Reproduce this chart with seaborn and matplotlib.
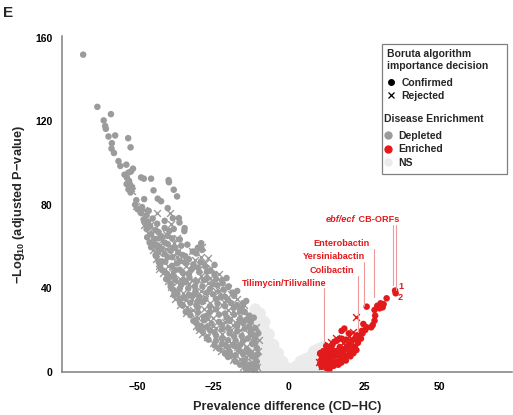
import pandas as pd
import matplotlib.pyplot as plt
import seaborn as sns
from matplotlib.lines import Line2D
from matplotlib.patches import Rectangle

# ----------------------------------------------------------
# Data : (prevalence difference, -log10 adjusted p)
# ----------------------------------------------------------

depleted_confirmed = [
    (-68, 152), (-63.3, 127), (-58.8, 123.5), (-61.2, 120.5), (-60.7, 117.8),
    (-60.5, 116.5), (-59.6, 112.8), (-57.4, 113.3), (-53.1, 112), (-58.5, 109.6),
    (-52.3, 107.6), (-58.6, 107), (-57.8, 104.9), (-56.3, 101), (-55.7, 98.7),
    (-53.7, 99.3), (-51.5, 97.4), (-54.3, 94.5), (-53, 95.5), (-52.2, 96),
    (-53.5, 93), (-52.8, 91.5), (-53.6, 90), (-52.4, 89.7), (-51.8, 88.5),
    (-53, 87.5), (-52.3, 86), (-48.8, 93.2), (-47.9, 92.6), (-45.5, 92.6),
    (-39.7, 91.9), (-39.6, 90.9), (-44.7, 87), (-38, 87.3), (-36.9, 84.1),
    (-50.4, 82.3), (-47.8, 82.8), (-43.3, 83), (-42.2, 81.8), (-50.8, 80.1),
    (-48.8, 76.1), (-46.3, 77.2), (-40, 78.5), (-41, 72.4), (-38.3, 73.7),
    (-36.3, 73.7), (-36.1, 71.6), (-34.4, 68.9), (-34.5, 67.5), (-47.5, 71.3),
    (-46.6, 69), (-45.5, 66), (-44, 68), (-42, 65), (-46, 62),
    (-43.5, 60), (-41, 62), (-39, 58), (-44, 56), (-42, 53),
    (-40, 55), (-37, 52), (-35, 56), (-33, 54), (-31.7, 57.7),
    (-28.6, 58.5), (-28.9, 61.7), (-24.5, 51.3), (-41, 48), (-38, 46),
    (-36, 49), (-33, 47), (-30, 50), (-27, 48), (-39, 42),
    (-36, 40), (-34, 43), (-31, 41), (-28, 44), (-25, 42),
    (-22, 44), (-20.5, 45), (-36, 35), (-33, 37), (-30, 34),
    (-27, 38), (-24, 35), (-21, 36), (-18.5, 38), (-33, 29),
    (-30, 31), (-27, 27), (-24, 30), (-21, 28), (-18, 31),
    (-16, 29), (-15, 33), (-29, 22), (-26, 20), (-23, 24),
    (-20, 21), (-17, 23), (-14, 25), (-13, 22), (-24, 15),
    (-21, 13), (-18, 17), (-15, 15), (-12, 18), (-11, 14),
    (-19, 8), (-16, 10), (-13, 9), (-11, 7), (-15, 4),
    (-12, 3), (-10.5, 5), (-13, 1.5),
    # dense part of the band
    (-50, 78), (-49, 76.5), (-48.5, 79), (-47, 75),
    (-48, 73), (-46.5, 72), (-45, 73.5), (-43.5, 71),
    (-47, 68.5), (-45.8, 69.8), (-43, 67), (-41, 69), (-39.5, 67.5), (-38, 68.5),
    (-46.8, 64.5), (-44.5, 63.8), (-43, 64), (-40, 65.2), (-38.5, 64), (-36, 63.5),
    (-45.5, 59.8), (-44, 61), (-42, 59), (-40, 61.3), (-37.5, 59.5), (-35.5, 60.5),
    (-33.5, 61), (-30, 59.5),
    (-43.8, 55.5), (-43.2, 57.5), (-41, 56.5), (-38.5, 55), (-36.5, 57.2), (-34.2, 55.5),
    (-30.5, 56.8),
    (-43, 53), (-42.5, 51.2), (-40.8, 52.8), (-38.6, 50.8), (-36, 53.3), (-34, 52.5),
    (-31.5, 51.5), (-29, 52.5), (-27.5, 50.5),
    (-41.8, 48.8), (-40.2, 47), (-37.5, 48.8), (-35, 47.5), (-32, 49.3), (-29.5, 47.8),
    (-26, 48.5), (-24.5, 46.8),
    (-40.5, 44.5), (-39.5, 45.5), (-37.5, 44), (-35, 43.8), (-32.8, 45.2), (-30.5, 43.2),
    (-27, 45), (-24, 44.5), (-21.8, 42.5),
    (-39, 40.8), (-38, 39.2), (-35.5, 41.8), (-33.2, 40), (-30.8, 38.8), (-28.5, 41),
    (-26, 39.8), (-23.5, 41.5), (-21.5, 39.5), (-19.8, 41),
    (-37.9, 36.8), (-36.8, 37.5), (-34.5, 35.5), (-32, 36.5), (-29.5, 36), (-27.5, 35),
    (-25, 37.2), (-22.5, 35.8), (-20, 34.5), (-18, 36.5), (-17, 38.8),
    (-35.8, 32.8), (-35, 31.8), (-32.5, 33.2), (-30.5, 32), (-28.5, 33.5), (-26, 31.5),
    (-23.5, 32.8), (-21, 31.5), (-19, 33), (-17, 32), (-15.5, 30.8), (-14, 34),
    (-34, 28.8), (-32.5, 27.2), (-30, 28.5), (-28, 26.5), (-26, 28.8), (-23, 27.5),
    (-20.5, 26), (-18, 27.5), (-16, 25.5), (-14.5, 28.8), (-13, 27),
    (-31.5, 24.5), (-30.5, 23.5), (-28, 24.8), (-25.5, 23.2), (-22, 22.5), (-19.5, 24.5),
    (-17, 22), (-15, 23.5), (-12.5, 24), (-11.5, 26),
    (-29.8, 20.8), (-28.5, 19.5), (-27, 21.5), (-24.5, 19), (-22, 20.5), (-19.5, 18.5),
    (-17, 19.5), (-14.5, 20.8), (-12.5, 19.5), (-11, 21),
    (-27, 16.2), (-26.5, 15.5), (-24, 17.5), (-22, 16), (-20, 15.2), (-17.5, 15),
    (-15.5, 17.2), (-13.5, 16), (-11, 16.5), (-10, 18.5),
    (-24.5, 12.8), (-23, 11.2), (-22, 13.5), (-20, 11.8), (-18, 12.5), (-16, 13),
    (-13.8, 11), (-12, 13.5), (-10.5, 11.5),
    (-21, 8.8), (-20, 7.2), (-19.5, 9.8), (-17.5, 8), (-15, 8.5), (-13.5, 10),
    (-12.2, 7.5), (-10.2, 8.5),
    (-17.5, 5), (-16, 3.5), (-14.5, 5.5), (-13, 3.5), (-11.5, 4), (-10.5, 2.5),
    (-14, 1.5), (-12.5, 0.8), (-11.2, 0.5),
]

depleted_rejected = [
    (-52, 88), (-51.9, 86.5), (-43.5, 76.1), (-39.4, 76.1), (-38.8, 71),
    (-37, 64.4), (-26.7, 54.5), (-28.5, 60), (-47.7, 70.5), (-46.5, 66.5),
    (-45, 62), (-44.9, 58.5), (-43, 57), (-42.5, 61), (-40.5, 59),
    (-38, 62), (-41.6, 47.3), (-43, 51), (-40, 51), (-37, 55),
    (-34, 51), (-32, 58), (-29, 55), (-40, 45), (-38.3, 37.7),
    (-37, 43), (-35, 46), (-32, 44), (-29, 46), (-26, 45),
    (-23, 47), (-35, 38), (-32, 35), (-29, 39), (-26, 33),
    (-23, 39), (-20, 40), (-17, 35), (-33.9, 28.2), (-31, 26),
    (-28, 30), (-25, 26), (-22, 32), (-19, 26), (-16, 27),
    (-14.6, 32), (-29.5, 20.1), (-27, 17), (-25, 22), (-22, 18),
    (-19, 20), (-16, 20), (-13.5, 26.5), (-10.7, 21.7), (-23.9, 12.1),
    (-21, 10), (-19, 14), (-17, 12), (-14, 12), (-12, 10),
    (-9.6, 15.3), (-18.4, 5.8), (-16, 6), (-14, 7), (-12, 5),
    (-10, 10), (-12.9, 1.8), (-10.3, 2.4), (-11, 1),
    (-50.5, 79.5), (-48, 77.5), (-47.5, 74), (-46, 70.5), (-44.5, 67.5),
    (-42, 63), (-40.5, 66), (-39, 60.5), (-37, 57.5), (-35.5, 52.5),
    (-33, 49.5), (-31, 53.5), (-29.5, 49.5), (-27.5, 52), (-25.5, 50),
    (-43.8, 54), (-42.8, 49.5), (-40, 43.5), (-39, 40.5), (-37.5, 35),
    (-36, 32), (-34, 34.5), (-33.5, 31), (-31.5, 29.5), (-30, 26),
    (-28, 22), (-26.5, 25.5), (-24, 21), (-21, 24), (-20, 29.5),
    (-18.5, 22.5), (-16.5, 24), (-14, 21.5), (-13, 18), (-15, 14),
    (-17, 10.5), (-18, 6.8), (-20, 8.5), (-22.5, 10), (-25, 14),
    (-27, 17.5), (-28.5, 18), (-30.5, 22), (-24, 39), (-22, 37),
    (-19, 37.5), (-24.5, 30), (-21.5, 33.5), (-18.5, 29), (-16, 31.5),
    (-33, 42), (-31, 37), (-28.5, 34.5), (-26.5, 42.5), (-36, 44.5),
    (-38.5, 48), (-30, 44), (-27.5, 38), (-12, 15.5), (-11.5, 8.5),
    (-14, 2), (-15, 2.5),
]

enriched_confirmed = [
    (35.3, 39), (35.5, 37.7), (32.5, 35.3), (30.5, 32.9), (29.4, 31.7),
    (31.2, 31), (31.5, 32.5), (30.2, 30.5), (28.5, 29.7), (28.7, 27),
    (25.9, 31.3), (28.5, 24.6), (27.9, 22.5), (27.4, 21.4), (25.9, 21.4),
    (24.8, 23), (25.4, 20.1), (24.3, 19.7), (23.5, 16.2), (18.5, 20.8),
    (17.6, 19.7), (22.5, 17.5), (21, 15), (20, 13), (22, 12),
    (19, 11), (17, 12), (18, 9), (16, 8), (15, 10),
    (14, 6), (13, 4), (12.5, 2), (14, 2.5), (16, 5),
    (17.5, 6), (19.5, 8), (20.5, 10), (23, 14), (24, 16),
    (12, 8), (11, 6), (10.5, 4), (11.5, 10), (13, 11),
    (14.5, 13), (16, 15), (13.5, 7), (15, 3), (12, 5.5),
    (11, 2.5), (12.8, 3.2), (13.5, 1), (14.8, 4.5), (16.5, 3.5),
    (17.5, 4.5), (18.5, 7), (19, 5.5), (20.5, 7.5), (21.5, 9),
    (22.5, 10.5), (21.5, 12), (19.5, 12.5), (18, 11), (16.5, 10),
    (15, 7.5), (13.8, 9), (12.5, 12.5), (14, 11.8), (15.2, 14.5),
    (17.5, 16), (19, 15.5), (20, 18.5), (22, 16), (23.5, 18),
    (24.5, 18.5), (12, 3.5), (10.5, 9), (11.8, 7), (17, 7.5),
]

enriched_rejected = [
    (22.5, 26.5), (21.3, 19.3), (19.9, 17.3), (16.9, 15.7), (15.8, 16.2),
    (14.1, 14.5), (10.5, 7), (11, 9), (12.5, 9.5), (11, 3),
    (13, 13), (15.5, 11), (18, 14), (20.5, 15.5), (10, 5),
]

not_significant = [
    (-11, 2), (-11, 6), (-11, 10), (-11, 14), (-11, 18), (-11, 22), (-11, 26), (-11, 30),
    (-9.5, 1), (-9.5, 5), (-9.5, 9), (-9.5, 13), (-9.5, 17), (-9.5, 21), (-9.5, 25), (-9.5, 28),
    (-8, 1), (-8, 4), (-8, 8), (-8, 12), (-8, 16), (-8, 20), (-8, 24),
    (-6.5, 1), (-6.5, 4), (-6.5, 7), (-6.5, 10), (-6.5, 14), (-6.5, 18),
    (-5, 1), (-5, 4), (-5, 7), (-5, 10), (-5, 13),
    (-3.5, 0.5), (-3.5, 3), (-3.5, 6), (-3.5, 9),
    (-2, 0.5), (-2, 2.5), (-2, 5), (-1, 0.5), (-1, 2),
    (1, 0.5), (1, 1.5), (2.5, 0.5), (2.5, 2.5),
    (4, 1), (4, 3), (4, 5), (5.5, 1), (5.5, 3.5), (5.5, 6),
    (7, 1.5), (7, 4), (7, 7), (8.5, 2), (8.5, 5), (8.5, 8), (8.5, 10),
    (10, 2), (10, 5), (10, 8), (10, 11), (11.5, 3), (11.5, 6), (11.5, 9), (11.5, 12),
]

# label, text x, text y, leader line x, line top, line bottom
labels = ["Tilimycin/Tilivalline", "Colibactin", "Yersiniabactin", "Enterobactin"]
label_x = [-1.4, 14.3, 15.1, 17.7]
label_y = [42.5, 48.6, 55.3, 61.4]
line_x = [11.6, 23.0, 25.0, 28.3]
line_top = [40, 46, 52.8, 59.1]
line_bottom = [15, 19.3, 31.7, 36.1]

orf_line_x = [34.5, 35.7]
orf_line_bottom = [41.7, 39.3]

# ----------------------------------------------------------
# Colours / Style
# ----------------------------------------------------------

GREY = "#9b9b9b"
RED = "#e31a1c"
NS_COL = "#ebebeb"
LINE_RED = "#f19a9a"
AXIS_GREY = "#808080"

sns.set_style("white")
plt.rcParams["font.family"] = ["Liberation Sans", "DejaVu Sans"]
plt.rcParams["font.weight"] = "bold"
plt.rcParams["axes.labelweight"] = "bold"
plt.rcParams["mathtext.fontset"] = "custom"
plt.rcParams["mathtext.rm"] = "Liberation Sans:bold"
plt.rcParams["mathtext.bf"] = "Liberation Sans:bold"


def to_df(points):
    return pd.DataFrame(points, columns=["diff", "logp"])


fig = plt.figure(figsize=(5.13, 4.15), dpi=100)
ax = fig.add_axes([0.1209, 0.1036, 0.877, 0.81])

# ----------------------------------------------------------
# Scatter layers
# ----------------------------------------------------------

sns.scatterplot(data=to_df(not_significant), x="diff", y="logp",
                color=NS_COL, s=75, edgecolor="none", ax=ax, legend=False)

sns.scatterplot(data=to_df(depleted_confirmed), x="diff", y="logp",
                color=GREY, s=22, edgecolor="none", ax=ax, legend=False)
sns.scatterplot(data=to_df(depleted_rejected), x="diff", y="logp",
                color=GREY, marker="x", s=24, linewidth=1.0, ax=ax, legend=False)

sns.scatterplot(data=to_df(enriched_confirmed), x="diff", y="logp",
                color=RED, s=22, edgecolor="none", ax=ax, legend=False)
sns.scatterplot(data=to_df(enriched_rejected), x="diff", y="logp",
                color=RED, marker="x", s=24, linewidth=1.0, ax=ax, legend=False)

# ----------------------------------------------------------
# Labels with leader lines
# ----------------------------------------------------------

for name, tx, ty, lx, lt, lb in zip(labels, label_x, label_y, line_x, line_top, line_bottom):
    ax.text(tx, ty, name, color=RED, fontsize=6.6, ha="center", va="center")
    ax.plot([lx, lx], [lb, lt], color=LINE_RED, lw=0.8, zorder=1)

ax.text(22.2, 72.9, "ebf/ecf", color=RED, fontsize=6.6, fontstyle="italic",
        ha="right", va="center")
ax.text(22.2, 72.9, " CB-ORFs", color=RED, fontsize=6.6, ha="left", va="center")
for lx, lb in zip(orf_line_x, orf_line_bottom):
    ax.plot([lx, lx], [lb, 70.5], color=LINE_RED, lw=0.8, zorder=1)

ax.text(37.3, 40.8, "1", color=RED, fontsize=6.6, ha="center", va="center")
ax.text(36.9, 35.6, "2", color=RED, fontsize=6.6, ha="center", va="center")

# ----------------------------------------------------------
# Axes
# ----------------------------------------------------------

ax.set_xlim(-75, 74)
ax.set_ylim(0, 161)
ax.set_xticks([-50, -25, 0, 25, 50])
ax.set_yticks([0, 40, 80, 120, 160])

for side in ["top", "right"]:
    ax.spines[side].set_visible(False)
for side in ["left", "bottom"]:
    ax.spines[side].set_color(AXIS_GREY)
    ax.spines[side].set_linewidth(1.1)

ax.tick_params(axis="both", length=4, width=1, color=AXIS_GREY,
               labelsize=7.5, pad=3, labelcolor="black")

ax.set_xlabel("Prevalence difference (CD\u2212HC)", fontsize=9.2,
              fontweight="bold", labelpad=7)
ax.set_ylabel("\u2212Log$_{\\mathbf{10}}$ (adjusted P\u2212value)", fontsize=9.2,
              fontweight="bold", labelpad=5.5)

fig.text(0.006, 0.985, "E", fontsize=11, fontweight="bold", va="top", ha="left")

# ----------------------------------------------------------
# Legend
# ----------------------------------------------------------

boruta_handles = [
    Line2D([], [], marker="o", ls="", color="black", ms=4),
    Line2D([], [], marker="x", ls="", color="black", ms=4.5, mew=0.9),
]
enrich_handles = [
    Line2D([], [], marker="o", ls="", color=GREY, ms=5),
    Line2D([], [], marker="o", ls="", color=RED, ms=5),
    Line2D([], [], marker="o", ls="", color=NS_COL, ms=5),
]

common = dict(frameon=False, fontsize=7.5, handlelength=0.8, handletextpad=0.6,
              labelspacing=0.32, borderpad=0.2, borderaxespad=0,
              alignment="left", title_fontproperties={"weight": "bold", "size": 7.5})

leg1 = fig.legend(boruta_handles, ["Confirmed", "Rejected"],
                  title="Boruta algorithm\nimportance decision",
                  loc="upper left", bbox_to_anchor=(385 / 513, 1 - 47 / 415), **common)
leg2 = fig.legend(enrich_handles, ["Depleted", "Enriched", "NS"],
                  title="Disease Enrichment",
                  loc="upper left", bbox_to_anchor=(382 / 513, 1 - 112 / 415), **common)
leg1._legend_box.sep = 5
leg2._legend_box.sep = 5

fig.patches.append(Rectangle((382 / 513, 1 - 174 / 415), 125 / 513, 130 / 415,
                             transform=fig.transFigure, fill=False,
                             edgecolor=AXIS_GREY, lw=0.9))

fig.savefig("out.png", dpi=100)
